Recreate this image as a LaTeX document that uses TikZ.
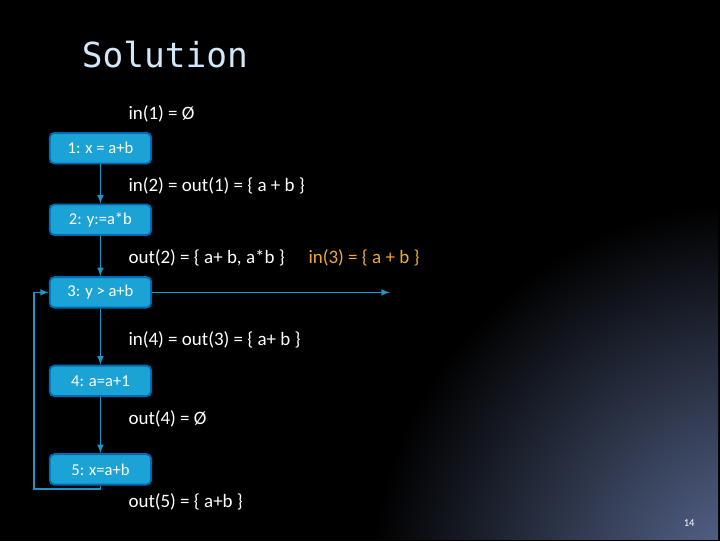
\documentclass[tikz,border=0pt]{standalone}
\usepackage{fontspec}
\setmainfont{Carlito}
\newfontfamily\titlefont{DejaVu Sans Mono}
\begin{document}
\begin{tikzpicture}[x=0.75pt,y=-0.75pt,
  blk/.style={draw=blue!40!cyan!70!black,line width=1.4pt,fill={rgb,255:red,27;green,163;blue,214},rounded corners=3.5pt,minimum width=76.5pt,minimum height=23pt,inner sep=0pt,text=white,font=\fontsize{12.5}{14}\selectfont},
  lbl/.style={anchor=west,text=white,font=\fontsize{14.3}{16}\selectfont,inner sep=0pt},
  con/.style={draw={rgb,255:red,27;green,150;blue,200},line width=1.2pt,-latex}]
\fill[black] (-2,-2) rectangle (722,542);
\begin{scope}
\clip (0,0) rectangle (720,540);
\shade[inner color={rgb,255:red,95;green,112;blue,155},outer color=black] (760,590) circle (390);
\end{scope}
\useasboundingbox (0,0) rectangle (720,540);
\node[anchor=west,text={rgb,255:red,210;green,232;blue,248},font=\titlefont\fontsize{26}{28}\selectfont,inner sep=0pt] (t) at (80,53) {Solution};
\node[blk] (b1) at (99,147) {1: x = a+b};
\node[blk] (b2) at (99,219) {2: y:=a*b};
\node[blk] (b3) at (99,292) {3: y > a+b};
\node[blk] (b4) at (99,381) {4: a=a+1};
\node[blk] (b5) at (99,470) {5: x=a+b};
\node[lbl] (l0) at (127,113) {in(1) = Ø};
\node[lbl] (l1) at (127,185) {in(2) = out(1) = \{ a + b \}};
\node[lbl] (l2) at (127,257) {out(2) = \{ a+ b, a*b \}};
\node[lbl,text={rgb,255:red,240;green,170;blue,50}] (l3) at (308,257) {in(3) = \{ a + b \}};
\node[lbl] (l4) at (127,340) {in(4) = out(3) = \{ a+ b \}};
\node[lbl] (l5) at (127,419) {out(4) = Ø};
\node[lbl] (l6) at (127,503) {out(5) = \{ a+b \}};
\node[text=white,font=\fontsize{8}{9}\selectfont,inner sep=0pt] (pg) at (691,524) {14};
\coordinate (e) at (390,292);
\draw[con] (b1) -- (b2);
\draw[con] (b2) -- (b3);
\draw[con] (b3) -- (b4);
\draw[con] (b4) -- (b5);
\draw[con] (b3) -- (e);
\draw[con] (b5.south) -- (99,490) -| (32,292) -- (b3.west);
\end{tikzpicture}
\end{document}
